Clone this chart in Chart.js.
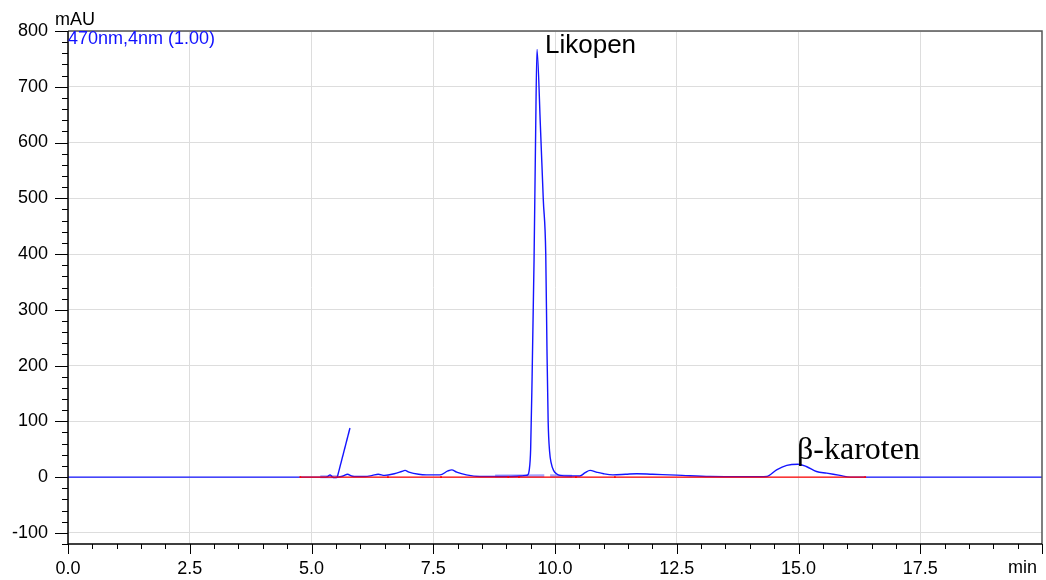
<!DOCTYPE html>
<html>
<head>
<meta charset="utf-8">
<script src="https://cdn.jsdelivr.net/npm/chart.js@4.4.1/dist/chart.umd.min.js"></script>
<style>
  html, body { margin: 0; padding: 0; background: #fff; }
  #wrap { width: 1046px; height: 580px; }
</style>
</head>
<body>
<div id="wrap"><canvas id="chrom" width="1046" height="580"></canvas></div>
<script>
// --- DATA (min, mAU) ---
const traceTime = [0, 4.8, 5.25, 5.33, 5.38, 5.43, 5.48, 5.55, 5.65, 5.74, 5.82, 5.95, 6.1, 6.25, 6.37, 6.5,
  6.7, 6.85, 6.92, 7.0, 7.2, 7.36, 7.64, 7.8, 7.88, 7.98, 8.18, 8.46, 8.8, 9.3, 9.40, 9.44,
  9.47, 9.50, 9.53, 9.57, 9.60, 9.63, 9.70, 9.76, 9.81, 9.835, 9.86, 9.89, 9.92, 9.97, 10.03, 10.10,
  10.3, 10.51, 10.62, 10.72, 10.85, 11.0, 11.19, 11.45, 11.68, 12.0, 12.5, 13.18, 14.2, 14.35, 14.55,
  14.76, 14.99, 15.16, 15.37, 15.58, 15.85, 16.06, 20];
const traceMAU = [0, 0, 0, 1, 4, 0, -1, 0, 2, 5, 2, 1, 1, 3, 5, 3,
  6, 10, 12, 9, 5, 4, 4, 11, 13, 9, 4, 1, 1, 2, 3, 4,
  12, 50, 180, 390, 600, 767, 630, 497, 400, 230, 98, 45, 26, 12, 6, 3,
  2, 2, 8, 12, 9, 6, 4, 5, 6, 5, 3.6, 1, 0.5, 1, 13,
  21, 23, 19, 10, 7, 3, 0, 0];

// stray straight segment near 5.5 min
const spikeTime = [5.53, 5.79];
const spikeMAU = [0, 88];

// integration baseline (red) with its marker points
const baseTime = [4.77, 6.57, 7.66, 9.04, 9.26, 10.43, 11.23, 16.37];
const baseMAU = [0, 0, 0, 0, 0, 0, 0, 0];

// light blue peak-start/end segments
const segTime = [5.18, 5.53, null, 8.77, 9.78, null, 9.90, 10.35];
const segMAU = [0.5, 0.5, null, 2, 2.5, null, 2.5, 1.5];

const xTicks = [0, 2.5, 5, 7.5, 10, 12.5, 15, 17.5];
const yTicks = [-100, 0, 100, 200, 300, 400, 500, 600, 700, 800];

const toPoints = (xs, ys) => xs.map((t, i) => (t === null ? { x: null, y: null } : { x: t, y: ys[i] }));

const FONT = "'Liberation Sans', Arial, sans-serif";

// minor/major tick marks, frame and annotations
const decorations = {
  id: 'decorations',
  afterDraw(chart) {
    const { ctx, chartArea: a, scales: { x, y } } = chart;
    ctx.save();
    ctx.strokeStyle = '#000';
    ctx.lineWidth = 1;
    ctx.beginPath();
    for (let i = 0; i <= 40; i++) {
      const px = Math.round(x.getPixelForValue(i * 0.5)) + 0.5;
      const len = i % 5 === 0 ? 10 : 5;
      ctx.moveTo(px, a.bottom);
      ctx.lineTo(px, a.bottom + len);
    }
    for (let v = -120; v <= 800; v += 20) {
      const py = Math.round(y.getPixelForValue(v)) + 0.5;
      const len = v % 100 === 0 ? 13 : 6;
      ctx.moveTo(a.left, py);
      ctx.lineTo(a.left - len, py);
    }
    ctx.stroke();

    // frame
    ctx.lineWidth = 1.5;
    ctx.strokeStyle = '#555';
    ctx.beginPath();
    ctx.moveTo(a.left, a.top);
    ctx.lineTo(a.right, a.top);
    ctx.lineTo(a.right, a.bottom);
    ctx.stroke();
    ctx.strokeStyle = '#000';
    ctx.beginPath();
    ctx.moveTo(a.left, a.top);
    ctx.lineTo(a.left, a.bottom);
    ctx.lineTo(a.right, a.bottom);
    ctx.stroke();

    // texts
    ctx.textBaseline = 'alphabetic';
    ctx.textAlign = 'left';
    ctx.fillStyle = '#000';
    ctx.font = '18px ' + FONT;
    ctx.fillText('mAU', 55, 25);
    ctx.fillText('min', 1008, 573);
    ctx.fillStyle = '#1010ff';
    ctx.fillText('470nm,4nm (1.00)', a.left, 44);
    ctx.fillStyle = '#000';
    ctx.font = '26px ' + FONT;
    ctx.fillText('Likopen', 545, 53);
    ctx.font = "32px 'Liberation Serif', 'Times New Roman', serif";
    ctx.fillText('β-karoten', 797, 459);
    ctx.restore();
  }
};

new Chart(document.getElementById('chrom'), {
  type: 'line',
  data: {
    datasets: [
      {
        label: 'baseline',
        data: toPoints(baseTime, baseMAU),
        borderColor: '#ff0000',
        backgroundColor: '#ff0000',
        borderWidth: 1.3,
        pointRadius: 1.2,
        pointStyle: 'rect',
        pointBorderWidth: 0
      },
      {
        label: '470nm,4nm (1.00)',
        data: toPoints(traceTime, traceMAU),
        borderColor: '#1414ff',
        borderWidth: 1.4,
        pointRadius: 0,
        cubicInterpolationMode: 'monotone'
      },
      {
        label: 'spike',
        data: toPoints(spikeTime, spikeMAU),
        borderColor: '#1414ff',
        borderWidth: 1.4,
        pointRadius: 0
      },
      {
        label: 'segments',
        data: toPoints(segTime, segMAU),
        borderColor: 'rgba(90, 90, 255, 0.55)',
        borderWidth: 3,
        pointRadius: 0,
        spanGaps: false
      }
    ]
  },
  options: {
    responsive: false,
    animation: false,
    layout: { padding: { top: 31, right: 3, left: 0, bottom: 0 } },
    plugins: { legend: { display: false }, tooltip: { enabled: false } },
    scales: {
      x: {
        type: 'linear',
        min: 0,
        max: 20,
        afterBuildTicks: (scale) => { scale.ticks = xTicks.map(v => ({ value: v })); },
        afterFit: (scale) => { scale.height = 36; },
        border: { display: false },
        grid: { color: '#dddddd', lineWidth: 1, drawTicks: false },
        ticks: {
          padding: 14,
          color: '#000',
          font: { family: FONT, size: 18 },
          maxRotation: 0,
          autoSkip: false,
          callback: (v) => Number(v).toFixed(1)
        }
      },
      y: {
        type: 'linear',
        min: -120,
        max: 800,
        afterBuildTicks: (scale) => { scale.ticks = yTicks.map(v => ({ value: v })); },
        afterFit: (scale) => { scale.width = 68; },
        border: { display: false },
        grid: { color: '#dddddd', lineWidth: 1, drawTicks: false },
        ticks: {
          padding: 20,
          color: '#000',
          font: { family: FONT, size: 18 },
          autoSkip: false
        }
      }
    }
  },
  plugins: [decorations]
});
</script>
</body>
</html>
